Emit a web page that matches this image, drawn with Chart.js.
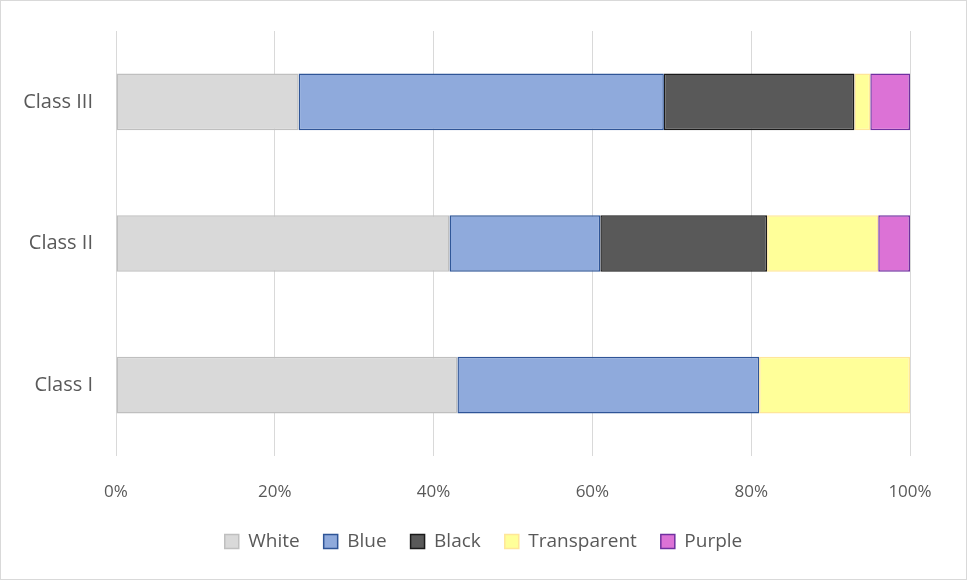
<!DOCTYPE html>
<html>
<head>
<meta charset="utf-8">
<script src="https://cdn.jsdelivr.net/npm/chart.js@4/dist/chart.umd.min.js"></script>
<style>
  html, body { margin: 0; padding: 0; background: #fff; }
  #wrap { width: 967px; height: 580px; box-sizing: border-box; border: 1px solid #d9d9d9; }
</style>
</head>
<body>
<div id="wrap"><canvas id="chart" width="965" height="578"></canvas></div>
<script>
// Categories, top to bottom
const classes = ["Class III", "Class II", "Class I"];

// Share of each colour (%)
const white       = [23, 42, 43];
const blue        = [46, 19, 38];
const black       = [24, 21, null];
const transparent = [2, 14, 19];
const purple      = [5, 4, null];

const xTicks = [0, 20, 40, 60, 80, 100];

const family = "'Open Sans', sans-serif";

function series(label, data, fill, edge) {
  return {
    label: label,
    data: data,
    backgroundColor: fill,
    borderColor: edge,
    borderWidth: 1.5,
    borderSkipped: false,
    barPercentage: 0.4,
    categoryPercentage: 1
  };
}

// centre the legend on the whole canvas, not the padded area
const centreLegend = {
  id: "centreLegend",
  afterLayout(chart) {
    chart.legend.left += 28;
    chart.legend.right += 28;
  }
};

const ctx = document.getElementById("chart").getContext("2d");

new Chart(ctx, {
  type: "bar",
  data: {
    labels: classes,
    datasets: [
      series("White", white, "#d9d9d9", "#bfbfbf"),
      series("Blue", blue, "#8faadc", "#2f5597"),
      series("Black", black, "#595959", "#1a1a1a"),
      series("Transparent", transparent, "#ffff99", "#ffe699"),
      series("Purple", purple, "#dc72d6", "#7030a0")
    ]
  },
  plugins: [centreLegend],
  options: {
    indexAxis: "y",
    responsive: false,
    animation: false,
    layout: { padding: { left: 0, right: 56, top: 30, bottom: 18 } },
    scales: {
      x: {
        stacked: true,
        min: 0,
        max: 100,
        afterBuildTicks: s => { s.ticks = xTicks.map(v => ({ value: v })); },
        afterFit: s => { s.height = 52; },
        ticks: {
          color: "#595959",
          font: { family: family, size: 17 },
          padding: 26,
          callback: v => v + "%"
        },
        grid: { color: "#d9d9d9", lineWidth: 1, drawTicks: false },
        border: { display: false }
      },
      y: {
        stacked: true,
        afterFit: s => { s.width = 115; },
        ticks: { color: "#595959", font: { family: family, size: 20 }, padding: 15 },
        grid: { display: false },
        border: { display: false }
      }
    },
    plugins: {
      tooltip: { enabled: false },
      legend: {
        position: "bottom",
        labels: {
          color: "#595959",
          font: { family: family, size: 19 },
          boxWidth: 14,
          boxHeight: 14,
          padding: 24
        }
      }
    }
  }
});
</script>
</body>
</html>
